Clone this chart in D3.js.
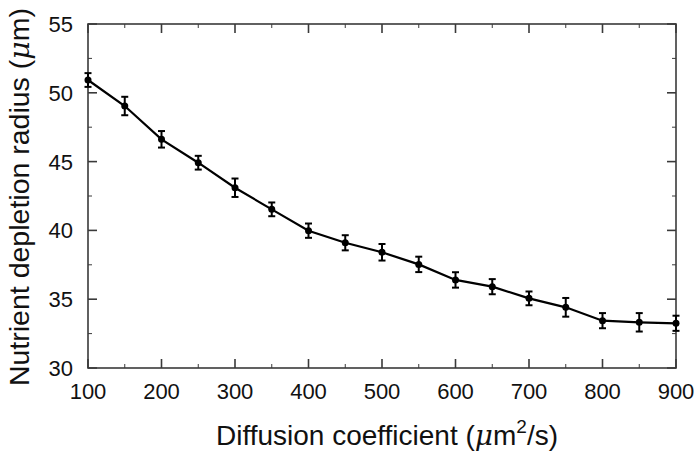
<!DOCTYPE html>
<html><head><meta charset="utf-8">
<script src="https://cdn.jsdelivr.net/npm/d3@7"></script>
<style>body{margin:0;background:#fff}svg{display:block}text{font-family:"Liberation Sans",Arial,sans-serif}</style>
</head><body><svg id="c" width="700" height="457"></svg>
<script>
const diffusion = [100,150,200,250,300,350,400,450,500,550,600,650,700,750,800,850,900];
const radius = [50.93,49.04,46.62,44.92,43.1,41.53,39.98,39.1,38.41,37.53,36.4,35.91,35.06,34.41,33.44,33.32,33.25];
const errors = [0.5,0.67,0.6,0.5,0.67,0.5,0.52,0.55,0.6,0.56,0.56,0.55,0.5,0.68,0.55,0.67,0.55];
const xTicks = [100,200,300,400,500,600,700,800,900];
const yTicks = [30,35,40,45,50,55];

const svg = d3.select("#c");
const L=88,R=676,T=24,B=368;
const x = d3.scaleLinear().domain([100,900]).range([L,R]);
const y = d3.scaleLinear().domain([30,55]).range([B,T]);
const ax = "#3a3a3a";

// frame
svg.append("rect").attr("x",L).attr("y",T).attr("width",R-L).attr("height",B-T)
  .attr("fill","none").attr("stroke",ax).attr("stroke-width",1.6);

const xMinor = d3.range(150,900,100);
const yMinor = d3.range(32.5,55,5);
const g = svg.append("g").attr("stroke",ax).attr("stroke-width",1.6);
xTicks.forEach(v=>{
  g.append("line").attr("x1",x(v)).attr("x2",x(v)).attr("y1",B).attr("y2",B-9);
  g.append("line").attr("x1",x(v)).attr("x2",x(v)).attr("y1",T).attr("y2",T+9);
});
xMinor.forEach(v=>{
  g.append("line").attr("x1",x(v)).attr("x2",x(v)).attr("y1",B).attr("y2",B-4).attr("stroke-width",1);
  g.append("line").attr("x1",x(v)).attr("x2",x(v)).attr("y1",T).attr("y2",T+4).attr("stroke-width",1);
});
yTicks.forEach(v=>{
  g.append("line").attr("x1",L).attr("x2",L+9).attr("y1",y(v)).attr("y2",y(v));
  g.append("line").attr("x1",R).attr("x2",R-9).attr("y1",y(v)).attr("y2",y(v));
});
yMinor.forEach(v=>{
  g.append("line").attr("x1",L).attr("x2",L+4).attr("y1",y(v)).attr("y2",y(v)).attr("stroke-width",1);
  g.append("line").attr("x1",R).attr("x2",R-4).attr("y1",y(v)).attr("y2",y(v)).attr("stroke-width",1);
});

// tick labels
svg.append("g").selectAll("text").data(xTicks).join("text")
  .attr("x",d=>x(d)).attr("y",399).attr("text-anchor","middle")
  .attr("font-size",22).attr("fill","#111").text(d=>d);
svg.append("g").selectAll("text").data(yTicks).join("text")
  .attr("x",73).attr("y",d=>y(d)+8).attr("text-anchor","end")
  .attr("font-size",22).attr("fill","#111").text(d=>d);

// axis titles
const xt = svg.append("text").attr("x",387).attr("y",445).attr("text-anchor","middle")
  .attr("font-size",28).attr("fill","#111");
xt.append("tspan").text("Diffusion coefficient (");
xt.append("tspan").attr("font-style","italic").attr("font-family","'DejaVu Serif',serif").text("μ");
xt.append("tspan").text("m");
xt.append("tspan").attr("dy",-12).attr("font-size",19).text("2");
xt.append("tspan").attr("dy",12).text("/s)");

const yt = svg.append("text").attr("transform","translate(29,197) rotate(-90)")
  .attr("text-anchor","middle").attr("font-size",28.5).attr("fill","#111");
yt.append("tspan").text("Nutrient depletion radius (");
yt.append("tspan").attr("font-style","italic").attr("font-family","'DejaVu Serif',serif").text("μ");
yt.append("tspan").text("m)");

// data
const pts = diffusion.map((d,i)=>({x:d,y:radius[i],e:errors[i]}));
svg.append("path").datum(pts).attr("fill","none").attr("stroke","#000").attr("stroke-width",2.2)
  .attr("d",d3.line().x(d=>x(d.x)).y(d=>y(d.y)));
const eb = svg.append("g").attr("stroke","#000").attr("stroke-width",2);
pts.forEach(p=>{
  const cx=x(p.x), y1=y(p.y+p.e), y2=y(p.y-p.e);
  eb.append("line").attr("x1",cx).attr("x2",cx).attr("y1",y1).attr("y2",y2);
  eb.append("line").attr("x1",cx-3.5).attr("x2",cx+3.5).attr("y1",y1).attr("y2",y1);
  eb.append("line").attr("x1",cx-3.5).attr("x2",cx+3.5).attr("y1",y2).attr("y2",y2);
});
svg.append("g").selectAll("circle").data(pts).join("circle")
  .attr("cx",d=>x(d.x)).attr("cy",d=>y(d.y)).attr("r",3.5).attr("fill","#000");
</script></body></html>
